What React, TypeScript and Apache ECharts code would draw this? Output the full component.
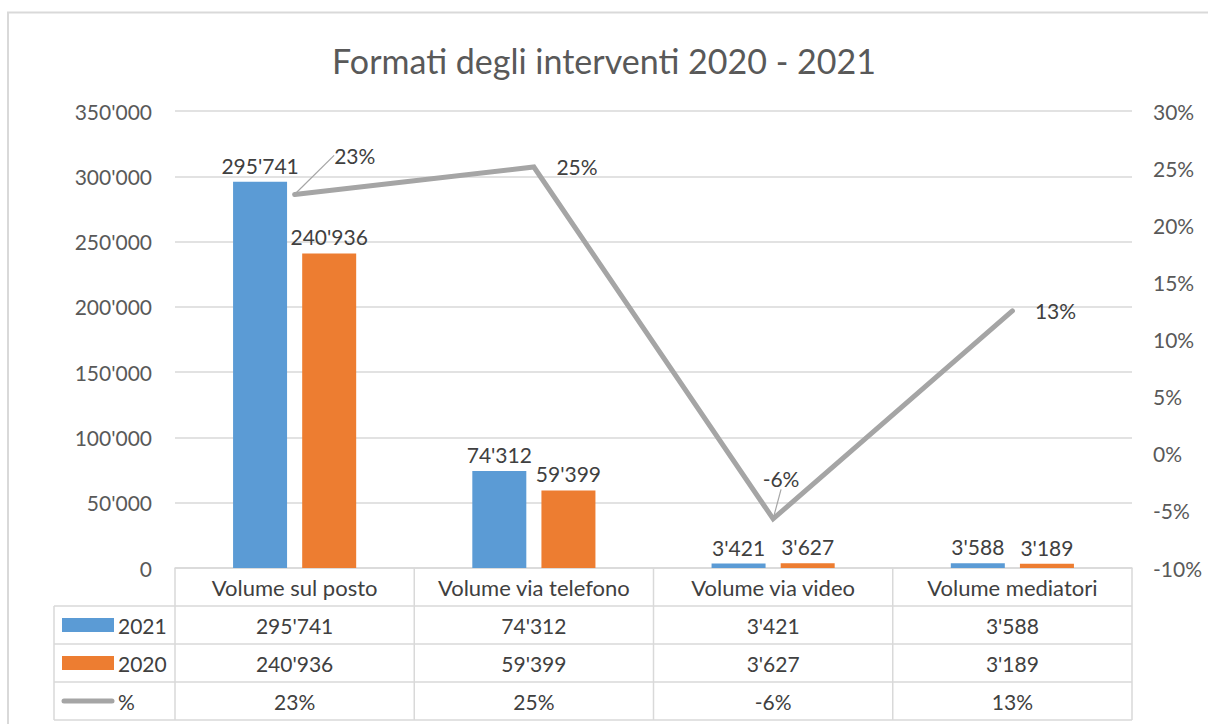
import React, { useEffect, useRef } from "react";
import * as echarts from "echarts";

const categories = ["Volume sul posto", "Volume via telefono", "Volume via video", "Volume mediatori"];
const values2021 = [295741, 74312, 3421, 3588];
const values2020 = [240936, 59399, 3627, 3189];
const pctChange = [22.7, 25.1, -5.7, 12.5];
const seriesNames = ["2021", "2020", "%"];
const titleText = "Formati degli interventi 2020 - 2021";

const FONT = "Lato";
const BLUE = "#5B9BD5";
const ORANGE = "#ED7D31";
const GREY = "#A5A5A5";
const LINE = "#D9D9D9";
const TXT = "#404040";
const AX = "#595959";
const NUM = 21;
const WORD = 22;

const fmt = (n: number) => String(n).replace(/\B(?=(\d{3})+(?!\d))/g, "'");
const fmtPct = (v: number) => Math.round(v) + "%";

export default function App() {
  const ref = useRef<HTMLDivElement>(null);
  useEffect(() => {
    const chart = echarts.init(ref.current!, null, { renderer: "svg" });
    const gridL = 175, gridR = 1132, gridT = 111, gridB = 568;
    const colW = (gridR - gridL) / categories.length;
    const rowH = 38;
    const rows = [
      { name: seriesNames[0], vals: values2021.map(fmt), key: "rect", color: BLUE },
      { name: seriesNames[1], vals: values2020.map(fmt), key: "rect", color: ORANGE },
      { name: seriesNames[2], vals: pctChange.map(fmtPct), key: "line", color: GREY },
    ];
    const graphics: any[] = [];
    graphics.push({ type: "rect", shape: { x: 8, y: 12.5, width: 1300, height: 800 }, style: { fill: "none", stroke: LINE, lineWidth: 2 }, silent: true });
    const tTop = gridB + rowH;
    const tBottom = tTop + rowH * rows.length;
    for (let r = 0; r <= rows.length; r++) {
      const y = tTop + r * rowH;
      graphics.push({ type: "line", shape: { x1: 54, y1: y, x2: gridR, y2: y }, style: { stroke: LINE, lineWidth: 1.5 } });
    }
    graphics.push({ type: "line", shape: { x1: 54, y1: tTop, x2: 54, y2: tBottom }, style: { stroke: LINE, lineWidth: 1.5 } });
    for (let c = 0; c <= categories.length; c++) {
      const x = gridL + c * colW;
      graphics.push({ type: "line", shape: { x1: x, y1: gridB, x2: x, y2: tBottom }, style: { stroke: LINE, lineWidth: 1.5 } });
    }
    rows.forEach((row, r) => {
      const cy = tTop + r * rowH + rowH / 2;
      if (row.key === "rect") {
        graphics.push({ type: "rect", shape: { x: 62, y: cy - 7, width: 52, height: 14 }, style: { fill: row.color } });
      } else {
        graphics.push({ type: "line", shape: { x1: 64, y1: cy, x2: 112, y2: cy }, style: { stroke: row.color, lineWidth: 5, lineCap: "round" } });
      }
      graphics.push({ type: "text", x: 118, y: cy, style: { text: row.name, fill: TXT, font: `${NUM}px ${FONT}`, textAlign: "left", textVerticalAlign: "middle" } });
      row.vals.forEach((v, c) => {
        graphics.push({ type: "text", x: gridL + colW * (c + 0.5), y: cy, style: { text: v, fill: TXT, font: `${NUM}px ${FONT}`, textAlign: "center", textVerticalAlign: "middle" } });
      });
    });

    const labelStyle = { color: TXT, fontSize: NUM, fontFamily: FONT };
    const leaderIdx = [0, 2];
    chart.setOption({
      animation: false,
      textStyle: { fontFamily: FONT },
      title: { text: titleText, left: "center", top: 38, textStyle: { color: AX, fontSize: 34, fontWeight: "normal", fontFamily: FONT } },
      grid: { left: gridL, right: 1208 - gridR, top: gridT, bottom: 724 - gridB, containLabel: false },
      xAxis: {
        type: "category",
        data: categories,
        axisLine: { show: true, lineStyle: { color: LINE, width: 1.5 } },
        axisTick: { show: false },
        axisLabel: { color: TXT, fontSize: WORD, fontFamily: FONT, margin: 8, interval: 0 },
      },
      yAxis: [
        {
          type: "value", min: 0, max: 350000, interval: 50000,
          axisLabel: { color: AX, fontSize: NUM, fontFamily: FONT, margin: 23, formatter: (v: number) => fmt(v) },
          splitLine: { lineStyle: { color: LINE, width: 1.5 } },
          axisLine: { show: false }, axisTick: { show: false },
        },
        {
          type: "value", min: -10, max: 30, interval: 5,
          axisLabel: { color: AX, fontSize: NUM, fontFamily: FONT, margin: 21, formatter: (v: number) => v + "%" },
          splitLine: { show: false }, axisLine: { show: false }, axisTick: { show: false },
        },
      ],
      series: [
        {
          name: seriesNames[0], type: "bar", data: values2021, barWidth: 54, barGap: "28%",
          itemStyle: { color: BLUE },
          label: { show: true, position: "top", distance: 6, formatter: (p: any) => fmt(p.value), ...labelStyle },
        },
        {
          name: seriesNames[1], type: "bar", data: values2020, barWidth: 54,
          itemStyle: { color: ORANGE },
          label: { show: true, position: "top", distance: 6, formatter: (p: any) => fmt(p.value), ...labelStyle },
        },
        {
          name: seriesNames[2], type: "line", yAxisIndex: 1, z: 5,
          data: pctChange.map((v, i) => ({ value: v, labelLine: { show: leaderIdx.includes(i) } })),
          symbol: "circle", symbolSize: 1, showSymbol: true,
          itemStyle: { color: "rgba(0,0,0,0)" },
          lineStyle: { color: GREY, width: 5, cap: "round", join: "miter" },
          label: { show: true, position: "right", distance: 22, formatter: (p: any) => fmtPct(p.value), ...labelStyle },
          labelLine: { show: false, lineStyle: { color: GREY, width: 1.2 } },
          labelLayout: (p: any) => {
            if (p.dataIndex === 0) return { dx: 17, dy: -39 };
            if (p.dataIndex === 2) return { dx: -33, dy: -40 };
            return {};
          },
        },
      ],
      graphic: graphics,
    });
    return () => chart.dispose();
  }, []);
  return <div ref={ref} style={{ position: "fixed", left: 0, top: 0, width: 1208, height: 724, background: "#fff" }} />;
}
